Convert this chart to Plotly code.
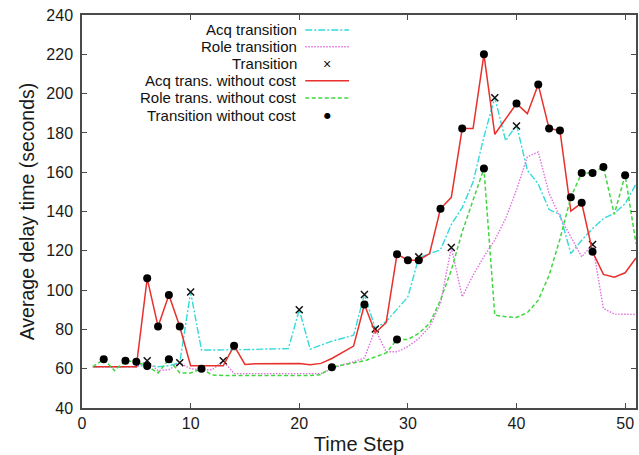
import plotly.graph_objects as go

# Time steps 1..51
steps = list(range(1, 52))

acq_transition = [61, 61, 61, 61, 61, 62, 61, 61.5, 63, 99,
                  69.5, 69.5, 69.5, 69.5, 69.6, 69.8, 70, 70, 70.2, 90,
                  70, 72, 74, 75.5, 77, 97.8, 80.5, 84, 90.5, 96.5,
                  116.5, 118.3, 120.5, 133.4, 142, 155, 178, 198, 176, 184,
                  161, 154, 141, 138.5, 118.6, 125.4, 131.3, 136.4, 139, 144,
                  154]

role_transition = [61, 61, 61, 61, 61, 64, 59, 59.5, 63, 60,
                   59.5, 59.5, 64, 57.5, 57.5, 57.5, 57.5, 57.5, 57.5, 57.5,
                   57.5, 57.5, 60, 62, 63.5, 65.5, 80, 68.6, 68.6, 71.2,
                   75.4, 81.3, 93.2, 121.7, 96.6, 107.6, 117, 125.4, 136.4, 151,
                   167.8, 170.3, 149.2, 137.3, 127.1, 116.9, 123.2, 90.7, 87.8, 87.6,
                   87.6]

acq_no_cost = [61, 61, 61, 61, 61, 106, 81.5, 97.5, 81.5, 61.5,
               61.5, 61.5, 61.5, 71.7, 62.2, 62.5, 62.5, 62.5, 62.5, 62.7,
               62, 62.7, 65.2, 68.3, 71.5, 92.7, 78.3, 83.5, 118.3, 115.2,
               115.2, 118.6, 141.4, 147.2, 182.2, 182.2, 220, 179.3, 187, 194.9,
               189.8, 204.6, 182.2, 181.2, 140.2, 144.4, 119.5, 108, 106.6, 108.8,
               116.4]

role_no_cost = [61, 64.8, 59, 64, 63.6, 61.4, 57.8, 64.8, 57.8, 57.8,
                60, 56.8, 56.5, 56.5, 56.5, 56.5, 56.5, 56.5, 56.5, 56.5,
                56.5, 57, 60.7, 61.9, 63, 64, 66, 68, 74.9, 74.9,
                78, 83, 94.9, 110.2, 129.6, 145.7, 161.9, 87.3, 86.4, 86.1,
                88.5, 94.9, 107.5, 126, 147.3, 159.6, 159.6, 162.7, 138.6, 158.5,
                123.7]

# Steps where a transition happened
trans_x = [6, 9, 10, 13, 20, 26, 27, 31, 34, 38, 40, 47]
trans_y = [64, 63, 99, 64, 90, 97.8, 80.2, 116.9, 121.7, 197.9, 183.5, 123.2]

trans_nc_x = [2, 4, 5, 6, 6, 7, 8, 8, 9, 11, 14, 23, 26, 29, 29, 30, 31, 33, 35,
              37, 37, 40, 42, 43, 44, 45, 46, 46, 47, 47, 48, 50]
trans_nc_y = [64.8, 64, 63.6, 106, 61.4, 81.5, 97.5, 64.8, 81.5, 60, 71.7, 60.7,
              92.7, 118.3, 74.9, 115.2, 115.2, 141.4, 182.2, 220, 161.9, 194.9,
              204.6, 182.2, 181.2, 147.3, 144.4, 159.6, 159.6, 119.5, 162.7, 158.5]

legend_labels = ["Acq transition", "Role transition", "Transition",
                 "Acq trans. without cost", "Role trans. without cost",
                 "Transition without cost"]

x_ticks = [0, 10, 20, 30, 40, 50]
y_ticks = [40, 60, 80, 100, 120, 140, 160, 180, 200, 220, 240]

CYAN = "#33dada"
MAGENTA = "#e070e0"
RED = "#e8302c"
GREEN = "#3ed83e"
FONT = "Liberation Sans, Arial, sans-serif"

DASH_CYAN = "7px,2px,2px,2px"
DASH_MAGENTA = "1.5px,1.5px"
DASH_GREEN = "4px,2.5px"

fig = go.Figure()
fig.add_trace(go.Scatter(x=steps, y=acq_transition, mode="lines",
                         line=dict(color=CYAN, width=1.4, dash=DASH_CYAN)))
fig.add_trace(go.Scatter(x=steps, y=role_transition, mode="lines",
                         line=dict(color=MAGENTA, width=1.4, dash=DASH_MAGENTA)))
fig.add_trace(go.Scatter(x=trans_x, y=trans_y, mode="markers",
                         marker=dict(symbol="x-thin", size=7,
                                     line=dict(color="#111", width=1.5))))
fig.add_trace(go.Scatter(x=steps, y=acq_no_cost, mode="lines",
                         line=dict(color=RED, width=1.5)))
fig.add_trace(go.Scatter(x=steps, y=role_no_cost, mode="lines",
                         line=dict(color=GREEN, width=1.5, dash=DASH_GREEN)))
fig.add_trace(go.Scatter(x=trans_nc_x, y=trans_nc_y, mode="markers",
                         marker=dict(symbol="circle", size=8, color="#000")))

# Key: text right-aligned with the sample to its right
text_right = 0.392
samp_x0, samp_x1 = 0.403, 0.482
samp_mid = (samp_x0 + samp_x1) / 2
rows = [0.962, 0.919, 0.876, 0.833, 0.789, 0.745]
styles = [("line", CYAN, DASH_CYAN), ("line", MAGENTA, DASH_MAGENTA), ("x", None, None),
          ("line", RED, "solid"), ("line", GREEN, DASH_GREEN), ("dot", None, None)]
shapes = []
annotations = []
for label, yy, (kind, col, dash) in zip(legend_labels, rows, styles):
    annotations.append(dict(x=text_right, y=yy, xref="paper", yref="paper",
                            text=label, showarrow=False, xanchor="right",
                            yanchor="middle",
                            font=dict(family=FONT, size=15, color="#111")))
    if kind == "line":
        shapes.append(dict(type="line", xref="paper", yref="paper",
                           x0=samp_x0, x1=samp_x1, y0=yy, y1=yy,
                           line=dict(color=col, width=1.5, dash=dash)))
    elif kind == "x":
        annotations.append(dict(x=samp_mid, y=yy, xref="paper", yref="paper",
                                text="×", showarrow=False, xanchor="center",
                                yanchor="middle",
                                font=dict(family=FONT, size=14, color="#111")))
    else:
        annotations.append(dict(x=samp_mid, y=yy, xref="paper", yref="paper",
                                text="●", showarrow=False, xanchor="center",
                                yanchor="middle",
                                font=dict(family="DejaVu Sans", size=8, color="#000")))

axis_common = dict(showline=True, linecolor="#4a4a4a", linewidth=1.5, mirror="allticks",
                   ticks="inside", ticklen=5, tickwidth=1.2, tickcolor="#4a4a4a",
                   showgrid=False, zeroline=False,
                   tickfont=dict(family=FONT, size=16, color="#1a1a1a"))

fig.update_layout(
    width=639, height=455,
    margin=dict(l=82, r=1, t=15, b=47),
    paper_bgcolor="white", plot_bgcolor="white",
    showlegend=False,
    shapes=shapes, annotations=annotations,
    xaxis=dict(range=[0, 51], tickvals=x_ticks, **axis_common,
               title=dict(text="Time Step", standoff=6,
                          font=dict(family=FONT, size=20, color="#1a1a1a"))),
    yaxis=dict(range=[40, 240], tickvals=y_ticks, **axis_common,
               ticklabelstandoff=4,
               title=dict(text="Average delay time (seconds)", standoff=7,
                          font=dict(family=FONT, size=19.5, color="#1a1a1a"))),
)

fig.write_html("out.html")
